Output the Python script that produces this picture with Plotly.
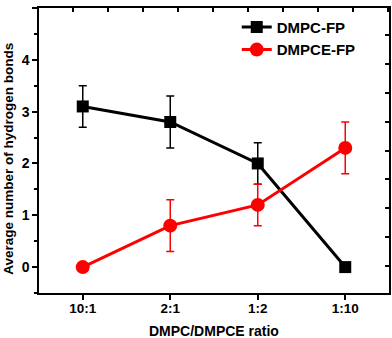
import plotly.graph_objects as go

categories = ["10:1", "2:1", "1:2", "1:10"]
dmpc_fp = [3.1, 2.8, 2.0, 0.0]
dmpc_fp_err = [0.4, 0.5, 0.4, 0.0]
dmpce_fp = [0.0, 0.8, 1.2, 2.3]
dmpce_fp_err = [0.0, 0.5, 0.4, 0.5]

FONT = "Liberation Sans, Arial, sans-serif"

fig = go.Figure()
fig.add_trace(go.Scatter(
    x=categories, y=dmpc_fp, name="DMPC-FP", mode="lines+markers",
    line=dict(color="black", width=3),
    marker=dict(symbol="square", size=12, color="black"),
    error_y=dict(type="data", array=dmpc_fp_err, color="black", thickness=1.5, width=4),
))
fig.add_trace(go.Scatter(
    x=categories, y=dmpce_fp, name="DMPCE-FP", mode="lines+markers",
    line=dict(color="#ff0000", width=3),
    marker=dict(symbol="circle", size=14, color="#ff0000"),
    error_y=dict(type="data", array=dmpce_fp_err, color="#ff0000", thickness=1.5, width=4),
))
# invisible trace on mirror axes so they render
fig.add_trace(go.Scatter(x=[0], y=[0], xaxis="x2", yaxis="y2", mode="markers",
                         marker=dict(opacity=0), showlegend=False, hoverinfo="skip"))

fig.update_layout(
    width=392, height=338,
    margin=dict(l=39, r=3, t=8, b=45),
    plot_bgcolor="white", paper_bgcolor="white",
    font=dict(family=FONT, color="black"),
    showlegend=True,
    legend=dict(x=0.565, y=0.99, xanchor="left", yanchor="top",
                font=dict(size=15, family=FONT, weight="bold"),
                bgcolor="rgba(0,0,0,0)", tracegroupgap=0, itemwidth=30),
    xaxis=dict(
        type="category", range=[-0.5, 3.5], automargin=False,
        showline=True, linecolor="black", linewidth=1.5, mirror=False,
        ticks="outside", ticklen=5, tickwidth=1.5, tickcolor="black",
        ticklabelstandoff=-3,
        showgrid=False, zeroline=False,
        tickfont=dict(size=13.5, family=FONT, weight="bold"),
    ),
    yaxis=dict(
        range=[-0.5, 5], dtick=1, tick0=0, automargin=False,
        showline=True, linecolor="black", linewidth=1.5,
        ticks="outside", ticklen=5, tickwidth=1.5, tickcolor="black",
        minor=dict(ticks="outside", dtick=0.5, ticklen=3, tickwidth=1.5, tickcolor="black"),
        showgrid=False, zeroline=False,
        tickfont=dict(size=14, family=FONT, weight="bold"),
    ),
    xaxis2=dict(
        overlaying="x", side="top", range=[-0.5, 3.5], tick0=-0.114, dtick=0.4,
        showline=True, linecolor="black", linewidth=1.5,
        ticks="inside", ticklen=4, tickwidth=1.5, tickcolor="black",
        showticklabels=False, showgrid=False, zeroline=False,
    ),
    yaxis2=dict(
        overlaying="y", side="right", range=[-0.5, 5], tick0=0.03, dtick=0.555,
        showline=True, linecolor="black", linewidth=1.5,
        ticks="inside", ticklen=4, tickwidth=1.5, tickcolor="black",
        showticklabels=False, showgrid=False, zeroline=False,
    ),
    annotations=[
        dict(text="DMPC/DMPCE ratio", xref="paper", yref="paper", x=0.5, y=-0.135,
             xanchor="center", yanchor="middle", showarrow=False,
             font=dict(size=14, family=FONT, weight="bold", color="black")),
        dict(text="Average number of hydrogen bonds", xref="paper", yref="paper",
             x=-0.088, y=0.472, xanchor="center", yanchor="middle", textangle=-90,
             showarrow=False,
             font=dict(size=13.5, family=FONT, weight="bold", color="black")),
    ],
)

fig.write_html("out.html")
